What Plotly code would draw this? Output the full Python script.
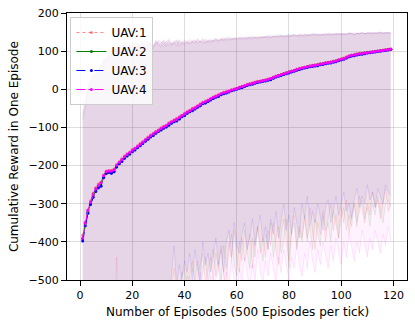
import plotly.graph_objects as go

episodes = list(range(1, 120))

uav1_mean = [-383,-348,-316,-293,-272,-258,-248,-243,-225,-214,
             -213,-212,-209,-197,-190,-182,-175,-169,-165,-158,
             -154,-148,-142,-137,-131,-125,-120,-115,-110,-106,
             -101,-97,-94,-88,-84,-80,-76,-72,-68,-63,
             -58,-55,-50,-47,-43,-38,-34,-31,-28,-24,
             -20,-17,-14,-11,-8,-6,-4,-1,1,3,
             6,8,10,13,15,17,19,21,22,24,
             25,27,29,32,35,37,39,42,44,46,
             48,50,53,55,57,58,60,62,63,64,
             65,67,68,70,71,72,74,75,78,80,
             82,85,88,89,91,93,94,95,96,97,
             98,99,100,101,102,103,104,105,106]
uav2_mean = [-392,-352,-322,-300,-280,-266,-256,-252,-232,-220,
             -218,-219,-215,-203,-194,-188,-180,-174,-170,-163,
             -158,-152,-147,-141,-135,-130,-124,-120,-114,-110,
             -106,-101,-98,-93,-88,-84,-81,-77,-71,-68,
             -62,-58,-55,-51,-46,-42,-37,-35,-31,-27,
             -23,-19,-17,-13,-11,-9,-6,-3,-1,2,
             4,6,8,11,13,15,17,19,21,22,
             24,25,27,30,33,36,38,40,43,45,
             47,49,51,53,55,57,59,60,62,63,
             64,66,67,69,70,71,73,74,76,78,
             81,83,86,89,90,92,93,94,95,96,
             97,98,99,100,101,102,103,104,105]
uav3_mean = [-398,-358,-325,-302,-283,-268,-259,-254,-231,-221,
             -217,-220,-216,-204,-195,-189,-181,-175,-169,-164,
             -159,-153,-148,-142,-136,-131,-125,-121,-115,-111,
             -107,-102,-99,-94,-89,-85,-83,-78,-72,-69,
             -63,-59,-56,-52,-47,-43,-38,-36,-32,-28,
             -24,-21,-19,-14,-12,-10,-7,-4,-2,0,
             3,4,7,10,12,13,16,18,19,21,
             22,24,25,29,32,34,36,39,41,43,
             45,47,50,52,54,56,57,59,60,61,
             62,64,65,67,68,69,71,72,75,77,
             79,82,85,87,88,90,91,92,93,95,
             96,97,98,99,100,101,102,103,104]
uav4_mean = [-390,-350,-318,-296,-276,-261,-252,-245,-227,-216,
             -214,-215,-211,-199,-191,-184,-177,-171,-166,-160,
             -155,-150,-144,-139,-133,-127,-122,-117,-112,-108,
             -103,-99,-95,-90,-86,-82,-79,-74,-69,-65,
             -60,-56,-52,-49,-44,-40,-35,-33,-29,-25,
             -21,-18,-15,-12,-9,-7,-5,-2,0,2,
             5,7,9,12,14,16,18,20,21,23,
             24,26,28,31,34,36,38,41,43,45,
             47,49,52,54,56,58,59,61,62,63,
             64,66,67,69,70,71,73,74,77,79,
             81,84,87,89,90,92,93,94,95,96,
             97,98,99,100,101,102,103,104,105]

uav1_upper = [-40,-20,10,25,40,30,55,60,70,80,
              90,85,100,110,95,115,105,120,110,100,
              115,125,105,120,110,130,115,105,125,120,
              110,130,120,115,125,118,128,112,125,120,
              128,118,125,130,122,127,120,132,125,128,
              124,132,127,130,135,126,133,129,136,131,
              134,130,137,133,136,131,138,134,137,135,
              139,134,137,140,136,139,141,137,140,138,
              142,138,141,139,143,140,142,144,141,143,
              140,144,142,145,141,143,146,142,145,143,
              146,144,147,145,143,146,148,145,147,146,
              148,145,147,149,146,148,147,149,148]
uav2_upper = [-70,-30,0,20,35,45,50,65,60,85,
              80,95,90,105,115,100,120,110,118,112,
              105,120,115,128,108,122,118,112,120,126,
              118,112,126,120,114,124,130,118,122,126,
              120,126,122,128,119,125,131,124,127,122,
              130,125,133,128,131,136,129,134,130,137,
              132,136,131,138,134,137,133,139,135,138,
              136,140,135,138,142,137,140,138,143,139,
              141,144,139,142,140,145,141,143,146,142,
              144,141,146,143,145,142,147,144,146,145,
              143,147,145,148,144,147,146,149,145,148,
              146,149,147,148,150,147,149,148,147]
uav3_upper = [-80,-50,-10,15,30,40,45,55,75,70,
              95,90,105,100,120,110,125,105,115,108,
              112,118,110,125,130,114,122,110,128,115,
              122,126,112,128,118,122,114,130,120,118,
              124,120,128,121,132,124,126,121,130,126,
              128,134,126,131,128,133,137,130,134,132,
              136,132,135,131,139,134,137,132,138,136,
              137,141,136,139,137,143,138,141,139,144,
              140,143,141,145,139,144,142,140,145,143,
              146,142,144,141,147,145,143,146,144,147,
              145,143,148,146,144,147,145,149,146,147,
              149,146,148,147,149,146,150,147,146]
uav4_upper = [-60,-40,5,20,45,35,50,65,80,75,
              85,100,95,115,108,118,110,125,115,120,
              118,110,126,115,122,118,128,120,114,130,
              125,118,124,132,116,128,121,126,118,130,
              122,131,126,120,129,124,133,126,122,131,
              127,130,124,135,129,132,128,136,133,129,
              135,138,133,136,132,140,135,137,134,139,
              138,135,141,137,140,136,142,139,138,141,
              139,143,140,142,145,139,144,141,143,146,
              142,145,143,147,144,146,141,148,145,144,
              147,145,148,146,149,145,147,148,146,150,
              147,149,148,146,150,148,147,149,148]

uav1_lower = [-900,-880,-860,-850,-830,-820,-800,-790,-780,-760,
              -750,-740,-700,-440,-720,-700,-690,-680,-670,-650,
              -640,-630,-620,-610,-600,-590,-580,-570,-560,-555,
              -550,-540,-520,-560,-530,-470,-540,-510,-490,-470,
              -520,-480,-450,-530,-500,-460,-430,-510,-470,-440,
              -500,-430,-470,-410,-490,-520,-400,-450,-370,-440,
              -480,-390,-450,-420,-380,-470,-400,-360,-430,-390,
              -440,-370,-410,-350,-420,-460,-380,-340,-400,-450,
              -370,-330,-410,-360,-390,-340,-400,-310,-370,-420,
              -350,-380,-320,-400,-340,-300,-370,-330,-390,-310,
              -350,-290,-380,-330,-300,-360,-280,-320,-350,-300,
              -330,-270,-310,-290,-340,-300,-260,-320,-300]
uav2_lower = [-950,-930,-910,-890,-870,-850,-830,-820,-800,-790,
              -780,-760,-750,-730,-720,-700,-690,-680,-670,-660,
              -650,-640,-630,-620,-610,-600,-590,-580,-570,-560,
              -560,-550,-540,-530,-520,-560,-510,-540,-480,-520,
              -490,-530,-470,-500,-450,-520,-480,-440,-510,-460,
              -420,-490,-450,-510,-410,-470,-430,-380,-460,-490,
              -400,-450,-370,-430,-470,-390,-440,-360,-410,-450,
              -380,-420,-350,-440,-390,-360,-430,-400,-340,-470,
              -380,-350,-420,-370,-400,-330,-390,-360,-420,-340,
              -380,-410,-330,-370,-350,-400,-320,-360,-390,-340,
              -310,-370,-330,-360,-300,-350,-320,-290,-340,-310,
              -360,-300,-330,-280,-320,-350,-300,-290,-310]
uav3_lower = [-920,-900,-880,-860,-850,-830,-810,-800,-790,-770,
              -760,-750,-740,-720,-710,-700,-690,-680,-660,-650,
              -640,-630,-620,-600,-590,-580,-570,-560,-550,-545,
              -540,-530,-510,-550,-490,-410,-520,-460,-500,-450,
              -480,-430,-500,-420,-470,-510,-400,-460,-430,-480,
              -440,-390,-460,-420,-480,-400,-370,-440,-350,-410,
              -430,-380,-350,-420,-390,-340,-410,-370,-330,-400,
              -360,-420,-340,-380,-320,-390,-350,-300,-370,-330,
              -380,-310,-350,-390,-300,-340,-280,-360,-320,-350,
              -300,-340,-370,-310,-290,-350,-320,-280,-330,-300,
              -270,-320,-300,-340,-290,-260,-310,-280,-300,-250,
              -290,-270,-310,-260,-280,-300,-250,-270,-280]
uav4_lower = [-980,-960,-940,-920,-900,-880,-870,-850,-840,-820,
              -810,-800,-790,-770,-760,-750,-740,-730,-720,-700,
              -690,-680,-670,-660,-650,-640,-630,-620,-610,-600,
              -590,-580,-570,-560,-550,-540,-530,-520,-560,-510,
              -550,-490,-540,-520,-560,-480,-530,-510,-550,-490,
              -530,-500,-470,-540,-510,-480,-520,-450,-500,-540,
              -470,-510,-440,-490,-530,-460,-500,-420,-480,-510,
              -450,-490,-430,-470,-510,-440,-480,-420,-460,-500,
              -440,-470,-410,-460,-490,-430,-470,-400,-450,-480,
              -420,-460,-400,-440,-470,-410,-450,-390,-430,-460,
              -400,-440,-380,-420,-450,-400,-430,-370,-410,-440,
              -390,-420,-370,-400,-430,-380,-410,-360,-400]

names = ["UAV:1", "UAV:2", "UAV:3", "UAV:4"]
means = [uav1_mean, uav2_mean, uav3_mean, uav4_mean]
uppers = [uav1_upper, uav2_upper, uav3_upper, uav4_upper]
lowers = [uav1_lower, uav2_lower, uav3_lower, uav4_lower]
x_label = "Number of Episodes (500 Episodes per tick)"
y_label = "Cumulative Reward in One Episode"
rgb = [(255, 0, 0), (0, 128, 0), (0, 0, 255), (255, 0, 255)]
line_colors = ["rgba(255,0,0,0.45)", "#008000", "#0000ff", "#ff00ff"]
dashes = ["dot", "solid", "dash", "dashdot"]

fig = go.Figure()

for i in range(4):
    r, g, b = rgb[i]
    fig.add_trace(go.Scatter(
        x=episodes, y=uppers[i], mode="lines",
        line=dict(color=f"rgba({r},{g},{b},0.12)", width=0.8),
        showlegend=False, hoverinfo="skip"))
    fig.add_trace(go.Scatter(
        x=episodes, y=lowers[i], mode="lines", fill="tonexty",
        fillcolor=f"rgba({r},{g},{b},0.05)",
        line=dict(color=f"rgba({r},{g},{b},0.12)", width=0.8),
        showlegend=False, hoverinfo="skip"))

for i in range(4):
    fig.add_trace(go.Scatter(
        x=episodes, y=means[i], mode="lines+markers", name=names[i],
        line=dict(color=line_colors[i], width=1, dash=dashes[i]),
        marker=dict(color=line_colors[i], size=3),
        hoverinfo="skip"))

axis_common = dict(
    showline=True, linecolor="black", linewidth=1, mirror=True,
    ticks="outside", ticklen=5, tickcolor="black", tickwidth=1,
    showgrid=True, gridcolor="rgba(176,176,176,0.42)", gridwidth=1,
    zeroline=False, automargin=False,
    tickfont=dict(family="DejaVu Sans", size=11, color="black"),
)

fig.update_layout(
    width=415, height=327,
    margin=dict(l=67, r=8, t=13, b=47),
    paper_bgcolor="white", plot_bgcolor="white",
    font=dict(family="DejaVu Sans", size=11, color="black"),
    xaxis=dict(range=[-5, 125.2], dtick=20, tick0=0, **axis_common),
    yaxis=dict(range=[-500, 200], dtick=100, tick0=0, **axis_common),
    legend=dict(x=0.01, y=0.985, xanchor="left", yanchor="top",
                bgcolor="rgba(255,255,255,0.8)", bordercolor="#cccccc",
                borderwidth=1, font=dict(family="DejaVu Sans", size=12),
                traceorder="normal", tracegroupgap=0, itemwidth=30),
    showlegend=True,
    annotations=[
        dict(text=x_label, xref="paper", yref="paper", x=0.5, y=-0.118,
             xanchor="center", yanchor="middle", showarrow=False,
             font=dict(family="DejaVu Sans", size=12, color="black")),
        dict(text=y_label, xref="paper", yref="paper", x=-0.157, y=0.5,
             xanchor="center", yanchor="middle", textangle=-90,
             showarrow=False,
             font=dict(family="DejaVu Sans", size=12, color="black")),
    ],
)

fig.write_html("out.html", config={"displayModeBar": False},
               post_script="document.body.style.margin='0';document.body.style.padding='0';")
